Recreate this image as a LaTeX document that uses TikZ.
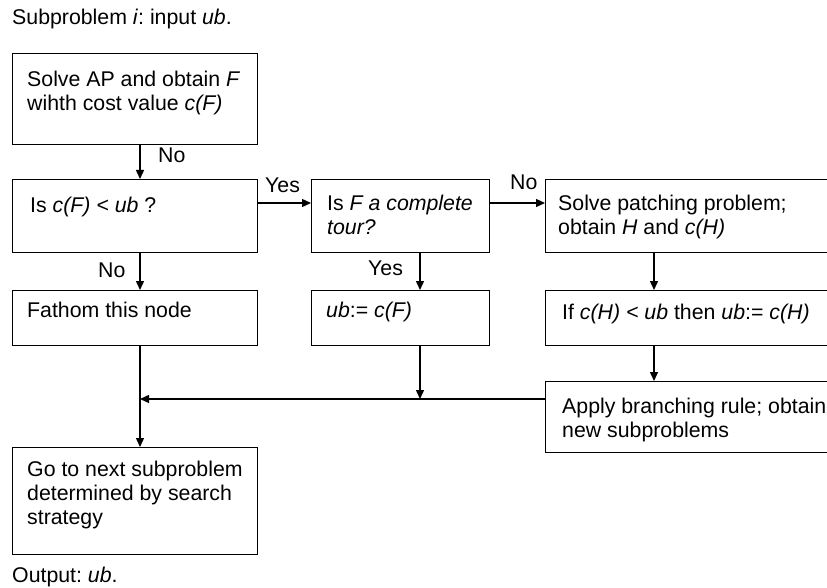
\documentclass[tikz,border=0pt]{standalone}
\usepackage{fontspec}
\setmainfont{Liberation Sans}
\usetikzlibrary{arrows.meta}
\frenchspacing
\begin{document}
\begin{tikzpicture}[x=1pt,y=-1pt,
  box/.style={draw, line width=1.4pt, inner sep=0, anchor=north west},
  txt/.style={inner sep=0, anchor=north west, align=left, font=\fontsize{21.3}{24}\selectfont},
  lbl/.style={inner sep=0, anchor=base west, font=\fontsize{21.3}{24}\selectfont},
  arr/.style={line width=1.4pt, -{Triangle[length=9pt,width=8pt]}},
  ln/.style={line width=1.4pt}]
\useasboundingbox (0,0) rectangle (827,588);
\clip (0,0) rectangle (827,588);
% boxes
\node[box, minimum width=245pt, minimum height=91pt] (b1) at (12,53) {};
\node[box, minimum width=245pt, minimum height=73pt] (b2) at (12,179) {};
\node[box, minimum width=178pt, minimum height=73pt] (b3) at (311,179) {};
\node[box, minimum width=300pt, minimum height=73pt] (b4) at (545,179) {};
\node[box, minimum width=245pt, minimum height=55pt] (b5) at (12,290) {};
\node[box, minimum width=178pt, minimum height=55pt] (b6) at (311,290) {};
\node[box, minimum width=300pt, minimum height=55pt] (b7) at (545,290) {};
\node[box, minimum width=300pt, minimum height=71pt] (b8) at (545,381) {};
\node[box, minimum width=245pt, minimum height=107pt] (b9) at (12,447) {};
% texts
\node[lbl] (title) at (12,25) {Subproblem \textit{i}: input \textit{ub}.};
\node[txt] (t1) at (27,71) {Solve AP and obtain \textit{F}\\wihth cost value \textit{c(F)}};
\node[txt] (t2) at (30,197) {Is \textit{c(F) < ub} ?};
\node[txt] (t3) at (327,195) {Is \textit{F a complete}\\\textit{tour?}};
\node[txt] (t4) at (558,195) {Solve patching problem;\\obtain \textit{H} and \textit{c(H)}};
\node[txt] (t5) at (27,302) {Fathom this node};
\node[txt] (t6) at (326,302) {\textit{ub}:= \textit{c(F)}};
\node[txt] (t7) at (562,304) {If \textit{c(H) < ub} then \textit{ub}:= \textit{c(H)}};
\node[txt] (t8) at (562,398) {Apply branching rule; obtain\\new subproblems};
\node[txt] (t9) at (27,461) {Go to next subproblem\\determined by search\\strategy};
\node[lbl] (out) at (12,582) {Output: \textit{ub}.};
% labels
\node[lbl] (l1) at (158,163) {No};
\node[lbl] (l2) at (265,193) {Yes};
\node[lbl] (l3) at (510,190) {No};
\node[lbl] (l4) at (98,277) {No};
\node[lbl] (l5) at (368,275) {Yes};
% guide coordinates
\coordinate (cx1) at (140,0);
\coordinate (cx2) at (420,0);
\coordinate (cx3) at (654,0);
\coordinate (cy1) at (0,203);
\coordinate (jy) at (0,399);
% connectors
\draw[arr] (b1.south -| cx1) -- (b2.north -| cx1);
\draw[arr] (b2.east |- cy1) -- (b3.west |- cy1);
\draw[arr] (b3.east |- cy1) -- (b4.west |- cy1);
\draw[arr] (b2.south -| cx1) -- (b5.north -| cx1);
\draw[arr] (b3.south -| cx2) -- (b6.north -| cx2);
\draw[arr] (b4.south -| cx3) -- (b7.north -| cx3);
\draw[arr] (b7.south -| cx3) -- (b8.north -| cx3);
\draw[arr] (b6.south -| cx2) -- (cx2 |- jy);
\draw[arr] (b8.west |- jy) -- (cx1 |- jy);
\draw[arr] (b5.south -| cx1) -- (b9.north -| cx1);
\end{tikzpicture}
\end{document}
